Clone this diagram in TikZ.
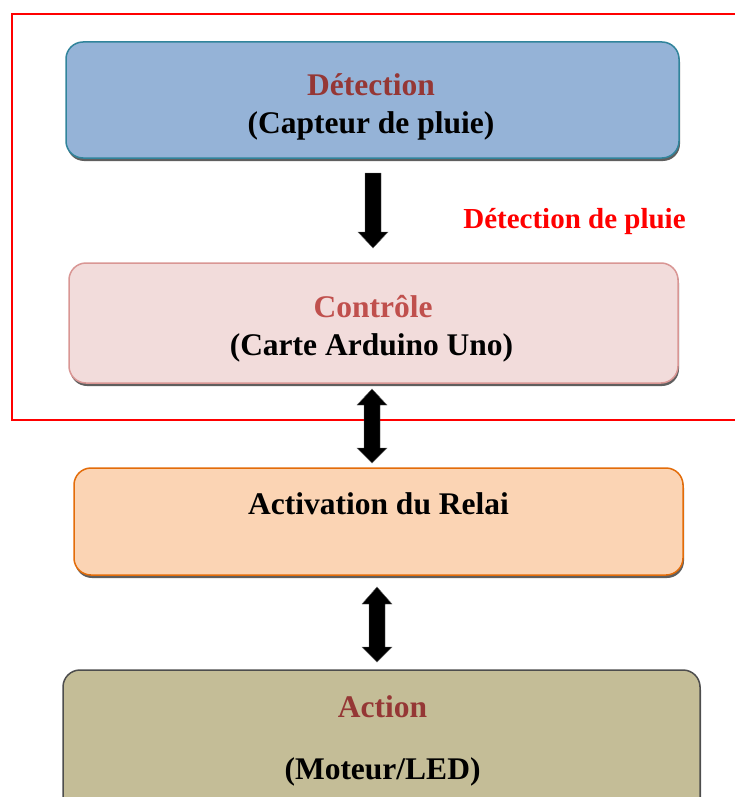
\documentclass[tikz,border=0pt]{standalone}
\usepackage{fontspec}
\setmainfont{Liberation Serif}
\usetikzlibrary{shadows}
\definecolor{bluefill}{HTML}{95B3D7}
\definecolor{blueline}{HTML}{31849B}
\definecolor{pinkfill}{HTML}{F2DCDB}
\definecolor{pinkline}{HTML}{D99694}
\definecolor{orfill}{HTML}{FBD4B4}
\definecolor{orline}{HTML}{E36C09}
\definecolor{tanfill}{HTML}{C4BD97}
\definecolor{tanline}{HTML}{4D4D4D}
\definecolor{darkred}{HTML}{953735}
\definecolor{midred}{HTML}{C0504D}
\definecolor{shadowgray}{HTML}{5F5F5F}
\begin{document}
\begin{tikzpicture}[x=1pt,y=-1pt,
  box/.style={rectangle, rounded corners=17pt, line width=1.5pt, inner sep=0pt,
    drop shadow={shadow xshift=1pt, shadow yshift=-3pt, fill=shadowgray, opacity=1}},
  txt/.style={font=\fontsize{31.5}{37}\selectfont\bfseries, inner sep=0pt, anchor=base},
  blockarrow/.style={fill=black, draw=black!60, line width=0.4pt, line join=miter}]
\useasboundingbox (0,0) rectangle (734,797);
\draw[red, line width=2pt] (12,14) rectangle (760,420);
% boxes
\node[box, fill=bluefill, draw=blueline, minimum width=613pt, minimum height=116pt] (det) at (372.5,100) {};
\node[box, fill=pinkfill, draw=pinkline, minimum width=609pt, minimum height=120pt] (ctrl) at (373.5,323) {};
\node[box, fill=orfill, draw=orline, minimum width=609pt, minimum height=107pt] (relai) at (378.5,521.5) {};
\node[box, fill=tanfill, draw=tanline, minimum width=637pt, minimum height=150pt] (act) at (381.5,745) {};
% texts
\node[txt, text=darkred] (t1) at (371,96) {Détection};
\node[txt] (t2) at (371,133) {(Capteur de pluie)};
\node[txt, text=red, font=\fontsize{29}{35}\selectfont\bfseries] (lbl) at (574.5,228) {Détection de pluie};
\node[txt, text=midred] (t3) at (373,317) {Contrôle};
\node[txt] (t4) at (371.5,355) {(Carte Arduino Uno)};
\node[txt] (t5) at (378.5,514) {Activation du Relai};
\node[txt, text=darkred] (t6) at (382.5,717) {Action};
\node[txt] (t7) at (382.5,779) {(Moteur/LED)};
% block arrows
\fill[blockarrow] (365,173) -- (381,173) -- (381,232) -- (388,232) -- (373,248) -- (358,232) -- (365,232) -- cycle;
\fill[blockarrow] (372,389) -- (387,405) -- (380,405) -- (380,448) -- (387,448) -- (372,463) -- (357,448) -- (364,448) -- (364,405) -- (357,405) -- cycle;
\fill[blockarrow] (377,587) -- (392,604) -- (385,604) -- (385,647) -- (392,647) -- (377,662) -- (362,647) -- (369,647) -- (369,604) -- (362,604) -- cycle;
\end{tikzpicture}
\end{document}
